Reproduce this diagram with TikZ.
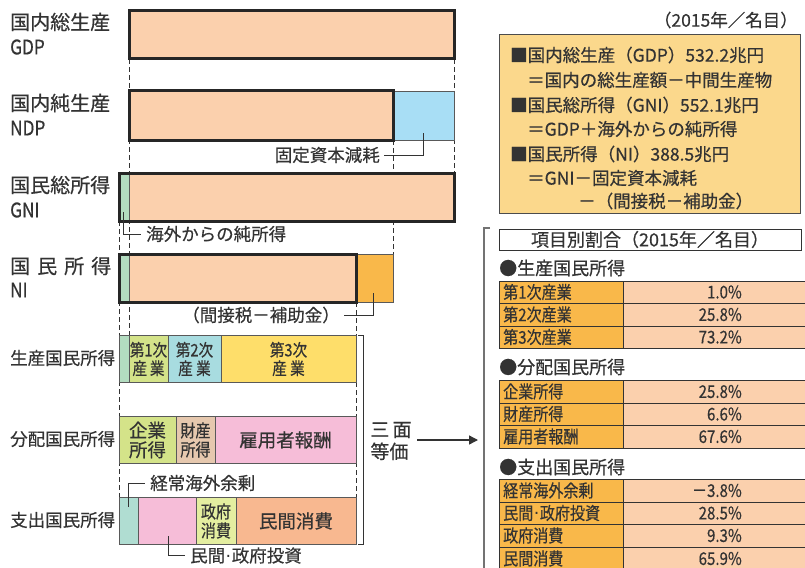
\documentclass[tikz,border=0pt]{standalone}
\usepackage{fontspec}
\setmainfont{Noto Sans CJK JP}[FakeBold=0.5]
\newfontfamily\jpc{Noto Sans CJK JP}[FakeStretch=0.86,FakeBold=0.5]
\newfontfamily\dvs{DejaVu Sans}
\usetikzlibrary{arrows.meta}
\definecolor{txt}{HTML}{333333}
\definecolor{peach}{HTML}{FBD0AD}
\definecolor{skyb}{HTML}{A8DEF5}
\definecolor{mint}{HTML}{B3DCC0}
\definecolor{orng}{HTML}{F9B84A}
\definecolor{ygrn}{HTML}{D4E389}
\definecolor{cyanl}{HTML}{A8DCE0}
\definecolor{yel}{HTML}{FEDE6A}
\definecolor{tan}{HTML}{E6C8AE}
\definecolor{pnk}{HTML}{F6BDD8}
\definecolor{teal}{HTML}{B0DDD2}
\definecolor{pyg}{HTML}{E4EEA0}
\definecolor{salm}{HTML}{F8B890}
\definecolor{boxy}{HTML}{FBD88C}
\newcommand\mdot{{\dvs\kern0.5pt·\kern0.5pt}}
\tikzset{
  every node/.style={text=txt, inner sep=0pt},
  lblbig/.style={font=\fontsize{20}{24}\selectfont, anchor=west},
  lbllat/.style={font=\jpc\fontsize{20}{24}\selectfont, anchor=west},
  lblsm/.style={font=\fontsize{17.5}{20}\selectfont, anchor=west},
  dline/.style={draw=txt, line width=0.7pt, dash pattern=on 5pt off 3pt},
  segb/.style={draw=black!65, line width=0.8pt},
  thickb/.style={draw=black!85, line width=3pt},
  leader/.style={draw=txt, line width=0.8pt},
  bartxt/.style={font=\jpc\fontsize{17.5}{19}\selectfont, align=center},
  bartxts/.style={font=\jpc\fontsize{17}{18.5}\selectfont, align=center},
  boxtxt/.style={font=\fontsize{17.5}{20}\selectfont, anchor=west},
  cell/.style={draw=black!80, line width=0.8pt},
  celltxt/.style={font=\jpc\fontsize{17.5}{20}\selectfont},
  heads/.style={font=\fontsize{18}{20}\selectfont, anchor=west},
}
\newcommand\trow[6]{%
  \draw[cell, fill=orng] (499,#1) rectangle (623,#2);
  \draw[cell, fill=peach] (623,#1) rectangle (808,#2);
  \node[celltxt, anchor=west] (#5) at (503,{(#1+#2)/2}) {#3};
  \node[celltxt, anchor=east] (#6) at (742,{(#1+#2)/2}) {#4};
}
\begin{document}
\begin{tikzpicture}[x=1pt,y=-1pt]
\useasboundingbox (0,0) rectangle (805,567);

% ---------- dashed guide lines ----------
\draw[dline] (129,59) -- (129,335);
\draw[dline] (454,59) -- (454,173);
\draw[dline] (393,140) -- (393,254);
\draw[dline] (119,221) -- (119,497);
\draw[dline] (356,302) -- (356,497);

% ---------- left labels ----------
\node[lblbig] (lgdp) at (10,22) {国内総生産};
\node[lbllat] (lgdp2) at (10,47) {GDP};
\node[lblbig] (lndp) at (10,103) {国内純生産};
\node[lbllat] (lndp2) at (10,128) {NDP};
\node[lblbig] (lgni) at (10,185) {国民総所得};
\node[lbllat] (lgni2) at (10,210) {GNI};
\node[lblbig] (lni) at (10,266) {\makebox[101pt][s]{国\hfill 民\hfill 所\hfill 得}};
\node[lbllat] (lni2) at (10,290) {NI};
\node[lblsm] (lsei) at (10,358) {生産国民所得};
\node[lblsm] (lbun) at (10,439) {分配国民所得};
\node[lblsm] (lshi) at (10,520) {支出国民所得};

% ---------- GDP ----------
\fill[peach] (129,11) rectangle (454,59);
\draw[thickb] (129,11) rectangle (454,59);

% ---------- NDP ----------
\fill[peach] (129,91) rectangle (393,140);
\draw[segb, fill=skyb] (393,91) rectangle (454,140);
\draw[thickb] (129,91) rectangle (393,140);
\node[font=\fontsize{17.5}{20}\selectfont, anchor=east] (tkotei) at (380,155) {固定資本減耗};
\draw[leader] (423,133) |- ([xshift=4pt]tkotei.east);

% ---------- GNI ----------
\fill[mint] (119,173) rectangle (129,221);
\fill[peach] (129,173) rectangle (454,221);
\draw[segb] (129,173) -- (129,221);
\draw[thickb] (119,173) rectangle (454,221);
\node[font=\fontsize{17.5}{20}\selectfont, anchor=west] (tkaigai) at (146,234) {海外からの純所得};
\draw[leader] (123,212) |- ([xshift=-5pt]tkaigai.west);

% ---------- NI ----------
\fill[mint] (119,254) rectangle (129,302);
\fill[peach] (129,254) rectangle (356,302);
\draw[segb] (129,254) -- (129,302);
\draw[segb, fill=orng] (356,254) rectangle (393,302);
\draw[thickb] (119,254) rectangle (356,302);
\node[font=\fontsize{17.5}{20}\selectfont, anchor=east] (tkansetsu) at (340,315) {（間接税－補助金）};
\draw[leader] (373,293) |- ([xshift=4pt]tkansetsu.east);

% ---------- production ----------
\draw[segb, fill=mint] (119,335) rectangle (129,382);
\draw[segb, fill=ygrn] (129,335) rectangle (168,382);
\draw[segb, fill=cyanl] (168,335) rectangle (221,382);
\draw[segb, fill=yel] (221,335) rectangle (356,382);
\node[bartxts] (p1) at (148.5,359) {第1次\\産\,業};
\node[bartxts] (p2) at (194.5,359) {第2次\\産\ 業};
\node[bartxts] (p3) at (288.5,359) {第3次\\産\ 業};

% ---------- distribution ----------
\draw[segb, fill=ygrn] (119,416) rectangle (176,463);
\draw[segb, fill=tan] (176,416) rectangle (215,463);
\draw[segb, fill=pnk] (215,416) rectangle (356,463);
\node[bartxt, font=\fontsize{18.5}{19.5}\selectfont] (d1) at (147.5,440) {企業\\所得};
\node[bartxt] (d2) at (195.5,440) {財産\\所得};
\node[bartxt, font=\fontsize{18.5}{19}\selectfont] (d3) at (285.5,440) {雇用者報酬};

% ---------- expenditure ----------
\draw[segb, fill=teal] (119,497) rectangle (138,544);
\draw[segb, fill=pnk] (138,497) rectangle (196,544);
\draw[segb, fill=pyg] (196,497) rectangle (236,544);
\draw[segb, fill=salm] (236,497) rectangle (356,544);
\node[bartxt] (e3) at (216,521) {政府\\消費};
\node[bartxt, font=\fontsize{18.5}{19}\selectfont] (e4) at (296,521) {民間消費};
\node[font=\fontsize{17.5}{20}\selectfont, anchor=west] (tkeijo) at (150,483) {経常海外余剰};
\draw[leader] (128.5,507) |- ([xshift=-5pt]tkeijo.west);
\node[font=\fontsize{17.5}{20}\selectfont, anchor=west] (tminkan) at (190,555.5) {民間\mdot 政府投資};
\draw[leader] (168,536) |- ([xshift=-5pt]tminkan.west);

% ---------- bracket and arrow ----------
\draw[leader, line width=0.9pt] (358,335) -- (363,335) -- (363,544) -- (358,544);
\node[font=\fontsize{19}{22}\selectfont, align=left] (sanmen) at (391,441) {三\,面\\等価};
\coordinate (arA) at (417,440);
\coordinate (arB) at (478,440);
\draw[draw=txt, line width=1.3pt, -{Triangle[length=9pt,width=9pt]}] (arA) -- (arB);

% ---------- top-right box ----------
\node[font=\fontsize{17.5}{20}\selectfont, anchor=east] (year) at (798,20) {（2015年／名目）};
\draw[draw=black!70, line width=0.9pt, fill=boxy] (499,34) rectangle (800,213);
\node[boxtxt] (b1) at (510,55) {■国内総生産（GDP）532.2兆円};
\node[boxtxt] (b2) at (527,80) {＝国内の総生産額－中間生産物};
\node[boxtxt] (b3) at (510,105) {■国民総所得（GNI）552.1兆円};
\node[boxtxt] (b4) at (527,129) {＝GDP＋海外からの純所得};
\node[boxtxt] (b5) at (510,154) {■国民所得（NI）388.5兆円};
\node[boxtxt] (b6) at (527,178) {＝GNI－固定資本減耗};
\node[boxtxt] (b7) at (578,201) {－（間接税－補助金）};

% ---------- right table ----------
\draw[draw=black!55, line width=1.2pt] (490,228) -- (484,228) -- (484,570);
\draw[draw=black!80, line width=0.9pt, fill=white] (499,229) rectangle (801,250);
\node[font=\fontsize{18}{20}\selectfont] (ttl) at (650,239.5) {項目別割合（2015年／名目）};

\node[heads] (h1) at (499,268) {●生産国民所得};
\trow{281}{303}{第1次産業}{1.0\%}{r1a}{r1b}
\trow{303}{326}{第2次産業}{25.8\%}{r2a}{r2b}
\trow{326}{348}{第3次産業}{73.2\%}{r3a}{r3b}

\node[heads] (h2) at (499,367) {●分配国民所得};
\trow{380}{403}{企業所得}{25.8\%}{r4a}{r4b}
\trow{403}{425}{財産所得}{6.6\%}{r5a}{r5b}
\trow{425}{448}{雇用者報酬}{67.6\%}{r6a}{r6b}

\node[heads] (h3) at (499,467) {●支出国民所得};
\trow{479}{502}{経常海外余剰}{－3.8\%}{r7a}{r7b}
\trow{502}{524}{民間\mdot 政府投資}{28.5\%}{r8a}{r8b}
\trow{524}{547}{政府消費}{9.3\%}{r9a}{r9b}
\trow{547}{570}{民間消費}{65.9\%}{r10a}{r10b}
\end{tikzpicture}
\end{document}
